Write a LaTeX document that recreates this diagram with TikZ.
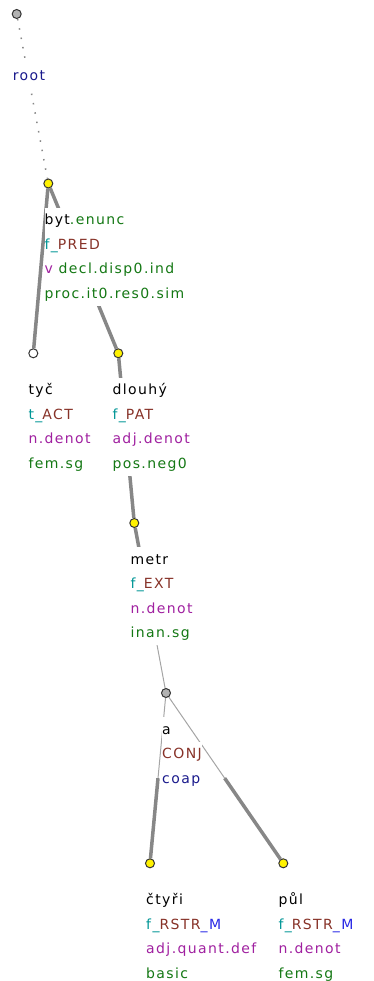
\documentclass[tikz,border=0pt]{standalone}
\usepackage{fontspec}
\newfontfamily\treefont[LetterSpace=10]{DejaVu Sans}
\usetikzlibrary{calc,backgrounds}

\definecolor{funcol}{RGB}{0,150,150}
\definecolor{brncol}{RGB}{135,50,40}
\definecolor{prpcol}{RGB}{160,32,160}
\definecolor{grncol}{RGB}{20,120,20}
\definecolor{navcol}{RGB}{25,25,140}
\definecolor{blucol}{RGB}{40,40,230}
\definecolor{edgecol}{RGB}{135,135,135}

\newcommand{\lblfont}{\treefont\fontsize{14}{24.5}\selectfont\setlength{\fboxsep}{0pt}}
\newcommand{\lline}[1]{\colorbox{white}{\rule[-7.5pt]{0pt}{24.3pt}#1}}

\begin{document}
\begin{tikzpicture}[x=1pt,y=-1pt,
  tnode/.style={circle,draw=black!80,line width=1pt,minimum size=9pt,inner sep=0pt},
  lbl/.style={anchor=north west,inner sep=0pt,align=left,font=\lblfont},
  thk/.style={draw=edgecol,line width=3.5pt},
  thn/.style={draw=edgecol!75,line width=1pt},
  rootedge/.style={draw=edgecol,line width=1.5pt,dash pattern=on 1.5pt off 8pt}]
  \useasboundingbox (0,0) rectangle (374,981);
  % tree nodes
  \node[tnode,fill=gray!60] (root) at (16.7,14) {};
  \node[tnode,fill=yellow] (byt) at (48.3,183.5) {};
  \node[tnode,fill=white] (tyc) at (33.3,353.3) {};
  \node[tnode,fill=yellow] (dlouhy) at (118.3,353.3) {};
  \node[tnode,fill=yellow] (metr) at (134.3,523) {};
  \node[tnode,fill=gray!60] (a) at (166,693) {};
  \node[tnode,fill=yellow] (ctyri) at (150,863.3) {};
  \node[tnode,fill=yellow] (pul) at (283.3,863.3) {};
  % edges, half by half
  \begin{scope}[on background layer]
    \draw[rootedge] (root) -- (byt);
    \draw[thk] (byt) -- (tyc);
    \draw[thk] (byt) -- (dlouhy);
    \draw[thk] (dlouhy) -- (metr);
    \draw[thk] (metr) -- ($(metr)!.5!(a)$);
    \draw[thn] ($(metr)!.5!(a)$) -- (a);
    \draw[thn] (a) -- ($(a)!.5!(ctyri)$);
    \draw[thk] ($(a)!.5!(ctyri)$) -- (ctyri);
    \draw[thn] (a) -- ($(a)!.5!(pul)$);
    \draw[thk] ($(a)!.5!(pul)$) -- (pul);
  \end{scope}
  % labels
  \node[lbl] (root-l) at (12.7,63.2) {\lline{\color{navcol}root}};
  \node[lbl] (byt-l) at ($(byt)+(-4,24.2)$) {\lline{byt\color{grncol}.enunc}\\
    \lline{\color{funcol}f\_\color{brncol}PRED}\\
    \lline{\color{prpcol}v \color{grncol}decl.disp0.ind}\\
    \lline{\color{grncol}proc.it0.res0.sim}};
  \node[lbl] (tyc-l) at ($(tyc)+(-5,24.2)$) {\lline{tyč}\\
    \lline{\color{funcol}t\_\color{brncol}ACT}\\
    \lline{\color{prpcol}n.denot}\\
    \lline{\color{grncol}fem.sg}};
  \node[lbl] (dlouhy-l) at ($(dlouhy)+(-6,24.2)$) {\lline{dlouhý}\\
    \lline{\color{funcol}f\_\color{brncol}PAT}\\
    \lline{\color{prpcol}adj.denot}\\
    \lline{\color{grncol}pos.neg0}};
  \node[lbl] (metr-l) at ($(metr)+(-4,24.2)$) {\lline{metr}\\
    \lline{\color{funcol}f\_\color{brncol}EXT}\\
    \lline{\color{prpcol}n.denot}\\
    \lline{\color{grncol}inan.sg}};
  \node[lbl] (a-l) at ($(a)+(-4,24.2)$) {\lline{a}\\
    \lline{\color{brncol}CONJ}\\
    \lline{\color{navcol}coap}};
  \node[lbl] (ctyri-l) at ($(ctyri)+(-4,24.2)$) {\lline{čtyři}\\
    \lline{\color{funcol}f\_\color{brncol}RSTR\color{blucol}\_M}\\
    \lline{\color{prpcol}adj.quant.def}\\
    \lline{\color{grncol}basic}};
  \node[lbl] (pul-l) at ($(pul)+(-5,24.2)$) {\lline{půl}\\
    \lline{\color{funcol}f\_\color{brncol}RSTR\color{blucol}\_M}\\
    \lline{\color{prpcol}n.denot}\\
    \lline{\color{grncol}fem.sg}};
\end{tikzpicture}
\end{document}
